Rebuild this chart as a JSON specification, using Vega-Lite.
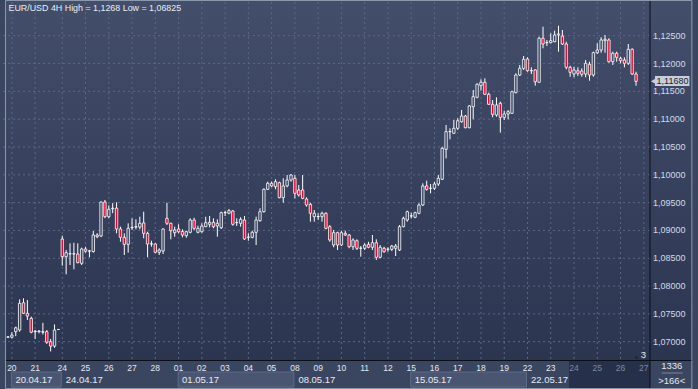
{
"$schema": "https://vega.github.io/schema/vega-lite/v6.json",
"width": 652, "height": 358,
"autosize": {"type": "none"},
"padding": {"left": 3, "top": 2, "right": 43, "bottom": 29},
"background": "#3a4560",
"config": {"view": {"stroke": null}, "font": "Liberation Sans", "locale": {"number": {"decimal": ",", "thousands": ".", "grouping": [3], "currency": ["", ""]}}},
"datasets": {
"candles": [
{"i":0,"o":1.07083,"h":1.071,"l":1.07065,"c":1.07085},
{"i":1,"o":1.0708,"h":1.0717,"l":1.0706,"c":1.0712},
{"i":2,"o":1.0718,"h":1.0727,"l":1.071,"c":1.0725},
{"i":3,"o":1.0721,"h":1.0776,"l":1.0718,"c":1.0769},
{"i":4,"o":1.077,"h":1.0778,"l":1.075,"c":1.0751},
{"i":5,"o":1.0751,"h":1.0775,"l":1.0739,"c":1.0746},
{"i":6,"o":1.0742,"h":1.0745,"l":1.0715,"c":1.0717},
{"i":7,"o":1.0719,"h":1.0721,"l":1.0705,"c":1.0718},
{"i":8,"o":1.0718,"h":1.0721,"l":1.0715,"c":1.0719},
{"i":9,"o":1.0718,"h":1.0734,"l":1.0713,"c":1.0717},
{"i":10,"o":1.0718,"h":1.0721,"l":1.0696,"c":1.0699},
{"i":11,"o":1.07,"h":1.0705,"l":1.06825,"c":1.0692},
{"i":12,"o":1.0692,"h":1.0731,"l":1.0689,"c":1.0721},
{"i":13,"o":1.0722,"h":1.0722,"l":1.0722,"c":1.0722},
{"i":14,"o":1.08846,"h":1.08905,"l":1.08366,"c":1.08528},
{"i":15,"o":1.08528,"h":1.08648,"l":1.08211,"c":1.086},
{"i":16,"o":1.08578,"h":1.08768,"l":1.08378,"c":1.08582},
{"i":17,"o":1.08582,"h":1.08779,"l":1.08301,"c":1.08576},
{"i":18,"o":1.08576,"h":1.08768,"l":1.08409,"c":1.0842},
{"i":19,"o":1.08409,"h":1.0869,"l":1.08378,"c":1.08666},
{"i":20,"o":1.08666,"h":1.08707,"l":1.086,"c":1.08625},
{"i":21,"o":1.08628,"h":1.0865,"l":1.08517,"c":1.08632},
{"i":22,"o":1.0862,"h":1.0899,"l":1.086,"c":1.08918},
{"i":23,"o":1.08918,"h":1.0895,"l":1.0886,"c":1.08888},
{"i":24,"o":1.089,"h":1.0952,"l":1.0888,"c":1.09511},
{"i":25,"o":1.09511,"h":1.09547,"l":1.0922,"c":1.09247},
{"i":26,"o":1.09247,"h":1.0945,"l":1.0922,"c":1.0938},
{"i":27,"o":1.0939,"h":1.0949,"l":1.0931,"c":1.094},
{"i":28,"o":1.094,"h":1.09506,"l":1.08948,"c":1.09026},
{"i":29,"o":1.09026,"h":1.09067,"l":1.08797,"c":1.08876},
{"i":30,"o":1.08876,"h":1.08948,"l":1.08558,"c":1.0875},
{"i":31,"o":1.0875,"h":1.09128,"l":1.086,"c":1.09038},
{"i":32,"o":1.0905,"h":1.09218,"l":1.09008,"c":1.09056},
{"i":33,"o":1.0906,"h":1.092,"l":1.0902,"c":1.09067},
{"i":34,"o":1.0906,"h":1.09247,"l":1.0902,"c":1.09128},
{"i":35,"o":1.09135,"h":1.09337,"l":1.08858,"c":1.08948},
{"i":36,"o":1.08948,"h":1.08977,"l":1.08517,"c":1.08756},
{"i":37,"o":1.08756,"h":1.08815,"l":1.08707,"c":1.0876},
{"i":38,"o":1.08756,"h":1.08768,"l":1.08589,"c":1.08607},
{"i":39,"o":1.08607,"h":1.08679,"l":1.08558,"c":1.08648},
{"i":40,"o":1.0863,"h":1.09038,"l":1.08576,"c":1.09026},
{"i":41,"o":1.09218,"h":1.09498,"l":1.09097,"c":1.09128},
{"i":42,"o":1.09128,"h":1.09139,"l":1.0884,"c":1.08995},
{"i":43,"o":1.08959,"h":1.09067,"l":1.08887,"c":1.09008},
{"i":44,"o":1.09026,"h":1.0911,"l":1.08948,"c":1.08977},
{"i":45,"o":1.0898,"h":1.0902,"l":1.08876,"c":1.08918},
{"i":46,"o":1.08905,"h":1.08995,"l":1.08869,"c":1.08977},
{"i":47,"o":1.08966,"h":1.09218,"l":1.08948,"c":1.09187},
{"i":48,"o":1.09187,"h":1.09229,"l":1.09008,"c":1.09038},
{"i":49,"o":1.08966,"h":1.09085,"l":1.08948,"c":1.09038},
{"i":50,"o":1.08977,"h":1.09128,"l":1.08959,"c":1.09079},
{"i":51,"o":1.09067,"h":1.09247,"l":1.0906,"c":1.09139},
{"i":52,"o":1.0911,"h":1.09259,"l":1.09056,"c":1.09146},
{"i":53,"o":1.09146,"h":1.09218,"l":1.09038,"c":1.09067},
{"i":54,"o":1.0908,"h":1.092,"l":1.08887,"c":1.09128},
{"i":55,"o":1.09049,"h":1.09337,"l":1.09026,"c":1.09319},
{"i":56,"o":1.09319,"h":1.09355,"l":1.09259,"c":1.09322},
{"i":57,"o":1.09308,"h":1.09385,"l":1.0929,"c":1.09355},
{"i":58,"o":1.0935,"h":1.09367,"l":1.09085,"c":1.0911},
{"i":59,"o":1.09139,"h":1.09218,"l":1.0908,"c":1.09142},
{"i":60,"o":1.09128,"h":1.09236,"l":1.09067,"c":1.092},
{"i":61,"o":1.09187,"h":1.09259,"l":1.08828,"c":1.08846},
{"i":62,"o":1.08876,"h":1.08948,"l":1.08815,"c":1.0888},
{"i":63,"o":1.08876,"h":1.08995,"l":1.08858,"c":1.08966},
{"i":64,"o":1.08966,"h":1.09247,"l":1.08738,"c":1.09187},
{"i":65,"o":1.09175,"h":1.09398,"l":1.09157,"c":1.09337},
{"i":66,"o":1.09337,"h":1.09757,"l":1.0932,"c":1.09739},
{"i":67,"o":1.09739,"h":1.09876,"l":1.09727,"c":1.09847},
{"i":68,"o":1.09847,"h":1.0988,"l":1.0978,"c":1.09799},
{"i":69,"o":1.09786,"h":1.09919,"l":1.0974,"c":1.09876},
{"i":70,"o":1.09858,"h":1.09876,"l":1.09577,"c":1.09588},
{"i":71,"o":1.0959,"h":1.09937,"l":1.09498,"c":1.09799},
{"i":72,"o":1.098,"h":1.09996,"l":1.09775,"c":1.09906},
{"i":73,"o":1.09906,"h":1.10014,"l":1.09876,"c":1.09996},
{"i":74,"o":1.09937,"h":1.09996,"l":1.09577,"c":1.09667},
{"i":75,"o":1.09727,"h":1.09817,"l":1.09607,"c":1.09637},
{"i":76,"o":1.09727,"h":1.09996,"l":1.0956,"c":1.09577},
{"i":77,"o":1.09565,"h":1.09595,"l":1.09427,"c":1.09457},
{"i":78,"o":1.09469,"h":1.09498,"l":1.09157,"c":1.09308},
{"i":79,"o":1.09247,"h":1.09367,"l":1.09157,"c":1.09308},
{"i":80,"o":1.09247,"h":1.09308,"l":1.09187,"c":1.0925},
{"i":81,"o":1.09247,"h":1.09337,"l":1.09157,"c":1.09308},
{"i":82,"o":1.09308,"h":1.09326,"l":1.0902,"c":1.09038},
{"i":83,"o":1.09067,"h":1.09097,"l":1.08797,"c":1.08828},
{"i":84,"o":1.08738,"h":1.09008,"l":1.08697,"c":1.08959},
{"i":85,"o":1.08959,"h":1.08977,"l":1.08648,"c":1.08738},
{"i":86,"o":1.08738,"h":1.08995,"l":1.0872,"c":1.08959},
{"i":87,"o":1.08948,"h":1.08995,"l":1.089,"c":1.08918},
{"i":88,"o":1.08918,"h":1.08936,"l":1.08679,"c":1.08707},
{"i":89,"o":1.08707,"h":1.08858,"l":1.08648,"c":1.08828},
{"i":90,"o":1.08815,"h":1.0884,"l":1.08648,"c":1.08679},
{"i":91,"o":1.08679,"h":1.0872,"l":1.08528,"c":1.08682},
{"i":92,"o":1.08679,"h":1.08768,"l":1.08648,"c":1.08738},
{"i":93,"o":1.0875,"h":1.08797,"l":1.08679,"c":1.08697},
{"i":94,"o":1.08697,"h":1.08918,"l":1.08648,"c":1.08779},
{"i":95,"o":1.08779,"h":1.0884,"l":1.08468,"c":1.08517},
{"i":96,"o":1.08517,"h":1.08738,"l":1.08499,"c":1.08697},
{"i":97,"o":1.08679,"h":1.08707,"l":1.086,"c":1.08617},
{"i":98,"o":1.0866,"h":1.08697,"l":1.08617,"c":1.08663},
{"i":99,"o":1.0866,"h":1.08738,"l":1.0863,"c":1.0872},
{"i":100,"o":1.08679,"h":1.08756,"l":1.0854,"c":1.0872},
{"i":101,"o":1.08648,"h":1.09097,"l":1.0863,"c":1.09067},
{"i":102,"o":1.09067,"h":1.09247,"l":1.09056,"c":1.09218},
{"i":103,"o":1.09187,"h":1.09355,"l":1.09157,"c":1.09337},
{"i":104,"o":1.0926,"h":1.09319,"l":1.09218,"c":1.09262},
{"i":105,"o":1.09236,"h":1.09337,"l":1.0922,"c":1.09319},
{"i":106,"o":1.09308,"h":1.09488,"l":1.0929,"c":1.09457},
{"i":107,"o":1.09457,"h":1.09847,"l":1.0944,"c":1.09799},
{"i":108,"o":1.09799,"h":1.09894,"l":1.09714,"c":1.09739},
{"i":109,"o":1.09757,"h":1.09834,"l":1.09667,"c":1.0976},
{"i":110,"o":1.09757,"h":1.09876,"l":1.09727,"c":1.09834},
{"i":111,"o":1.09834,"h":1.09996,"l":1.09799,"c":1.09937},
{"i":112,"o":1.09919,"h":1.10505,"l":1.09906,"c":1.10476},
{"i":113,"o":1.10458,"h":1.10895,"l":1.10296,"c":1.10775},
{"i":114,"o":1.10775,"h":1.10836,"l":1.10638,"c":1.10778},
{"i":115,"o":1.10746,"h":1.10985,"l":1.10733,"c":1.10836},
{"i":116,"o":1.10836,"h":1.11016,"l":1.10805,"c":1.10972},
{"i":117,"o":1.10954,"h":1.11165,"l":1.10936,"c":1.11057},
{"i":118,"o":1.11057,"h":1.11075,"l":1.10836,"c":1.10846},
{"i":119,"o":1.10846,"h":1.11255,"l":1.10836,"c":1.11237},
{"i":120,"o":1.11224,"h":1.11524,"l":1.10997,"c":1.11404},
{"i":121,"o":1.11393,"h":1.11645,"l":1.11375,"c":1.11627},
{"i":122,"o":1.11602,"h":1.11717,"l":1.11512,"c":1.11663},
{"i":123,"o":1.11663,"h":1.11734,"l":1.11434,"c":1.11447},
{"i":124,"o":1.11447,"h":1.11476,"l":1.11255,"c":1.11267},
{"i":125,"o":1.11267,"h":1.11344,"l":1.11033,"c":1.11087},
{"i":126,"o":1.11075,"h":1.11393,"l":1.11044,"c":1.11255},
{"i":127,"o":1.11285,"h":1.11314,"l":1.10757,"c":1.11033},
{"i":128,"o":1.11033,"h":1.11152,"l":1.10985,"c":1.11093},
{"i":129,"o":1.11093,"h":1.11165,"l":1.10997,"c":1.11134},
{"i":130,"o":1.11105,"h":1.11512,"l":1.11093,"c":1.11494},
{"i":131,"o":1.11476,"h":1.11824,"l":1.11465,"c":1.11794},
{"i":132,"o":1.11794,"h":1.11974,"l":1.11776,"c":1.11914},
{"i":133,"o":1.11914,"h":1.12135,"l":1.11884,"c":1.12076},
{"i":134,"o":1.12081,"h":1.12112,"l":1.11853,"c":1.11871},
{"i":135,"o":1.1187,"h":1.11932,"l":1.11812,"c":1.11873},
{"i":136,"o":1.11884,"h":1.11896,"l":1.11602,"c":1.11673},
{"i":137,"o":1.11663,"h":1.12482,"l":1.11655,"c":1.12454},
{"i":138,"o":1.12454,"h":1.12662,"l":1.12274,"c":1.12351},
{"i":139,"o":1.12375,"h":1.12423,"l":1.12315,"c":1.12378},
{"i":140,"o":1.12375,"h":1.12543,"l":1.12364,"c":1.12411},
{"i":141,"o":1.12393,"h":1.1259,"l":1.12382,"c":1.12513},
{"i":142,"o":1.12513,"h":1.1268,"l":1.12213,"c":1.12531},
{"i":143,"o":1.12495,"h":1.12603,"l":1.12333,"c":1.12351},
{"i":144,"o":1.12351,"h":1.12392,"l":1.11896,"c":1.11932},
{"i":145,"o":1.11932,"h":1.11961,"l":1.11763,"c":1.11842},
{"i":146,"o":1.11812,"h":1.11943,"l":1.11752,"c":1.11884},
{"i":147,"o":1.1187,"h":1.11932,"l":1.11776,"c":1.11824},
{"i":148,"o":1.11866,"h":1.11914,"l":1.11763,"c":1.11806},
{"i":149,"o":1.11812,"h":1.12063,"l":1.11752,"c":1.12004},
{"i":150,"o":1.11986,"h":1.12033,"l":1.11691,"c":1.11794},
{"i":151,"o":1.11794,"h":1.12213,"l":1.11763,"c":1.12195},
{"i":152,"o":1.12195,"h":1.12364,"l":1.12172,"c":1.12243},
{"i":153,"o":1.12243,"h":1.12472,"l":1.12195,"c":1.12423},
{"i":154,"o":1.12411,"h":1.12513,"l":1.12195,"c":1.12436},
{"i":155,"o":1.12423,"h":1.12454,"l":1.12015,"c":1.12033},
{"i":156,"o":1.12033,"h":1.12213,"l":1.11974,"c":1.12184},
{"i":157,"o":1.12184,"h":1.12213,"l":1.12033,"c":1.12112},
{"i":158,"o":1.12094,"h":1.12123,"l":1.12004,"c":1.12051},
{"i":159,"o":1.12063,"h":1.12112,"l":1.11932,"c":1.12004},
{"i":160,"o":1.12004,"h":1.12351,"l":1.11974,"c":1.12256},
{"i":161,"o":1.12256,"h":1.12274,"l":1.11794,"c":1.11812},
{"i":162,"o":1.11812,"h":1.11853,"l":1.11602,"c":1.1168}
],
"days": [
{"i":1,"d":"20"},{"i":7,"d":"21"},{"i":14,"d":"24"},{"i":20,"d":"25"},{"i":26,"d":"26"},{"i":32,"d":"27"},{"i":38,"d":"28"},
{"i":44,"d":"01"},{"i":50,"d":"02"},{"i":56,"d":"03"},{"i":62,"d":"04"},{"i":68,"d":"05"},
{"i":74,"d":"08"},{"i":80,"d":"09"},{"i":86,"d":"10"},{"i":92,"d":"11"},{"i":98,"d":"12"},
{"i":104,"d":"15"},{"i":110,"d":"16"},{"i":116,"d":"17"},{"i":122,"d":"18"},{"i":128,"d":"19"},
{"i":134,"d":"22"},{"i":140,"d":"23"},{"i":146,"d":"24"},{"i":152,"d":"25"},{"i":158,"d":"26"},{"i":164,"d":"27"}
],
"weeks": [
{"w":0,"s":1,"e":14,"t":"20.04.17"},
{"w":1,"s":14,"e":44,"t":"24.04.17"},
{"w":2,"s":44,"e":74,"t":"01.05.17"},
{"w":3,"s":74,"e":104,"t":"08.05.17"},
{"w":4,"s":104,"e":134,"t":"15.05.17"},
{"w":5,"s":134,"e":146,"t":"22.05.17"}
],
"levels": [
{"p":1.07},{"p":1.075},{"p":1.08},{"p":1.085},{"p":1.09},{"p":1.095},{"p":1.1},{"p":1.105},{"p":1.11},{"p":1.115},{"p":1.12},{"p":1.125}
]
},
"layer": [
{
"data": {"values": [{"k": 1}]},
"mark": {"type": "rect", "fill": {"gradient": "linear", "x1": 0, "y1": 0, "x2": 0, "y2": 1, "stops": [{"offset": 0, "color": "#434e6b"}, {"offset": 1, "color": "#2b3550"}]}},
"encoding": {
"x": {"datum": -0.762, "type": "quantitative", "scale": {"domain": [0, 165.6], "nice": false, "zero": false}, "axis": null},
"x2": {"datum": 176.53},
"y": {"datum": 1.13142, "type": "quantitative", "scale": {"domain": [1.06671, 1.13106], "nice": false, "zero": false}, "axis": null},
"y2": {"datum": 1.06671}
}
},
{
"data": {"name": "levels"},
"mark": {"type": "rule", "stroke": "#5b6885", "strokeWidth": 1, "strokeDash": [2, 3]},
"encoding": {
"y": {"field": "p", "type": "quantitative", "scale": {"domain": [1.06671, 1.13106], "nice": false, "zero": false}, "axis": null}
}
},
{
"data": {"name": "levels"},
"mark": {"type": "text", "align": "left", "baseline": "middle", "fontSize": 9, "color": "#d3dbe8"},
"encoding": {
"x": {"datum": 166.35, "type": "quantitative", "scale": {"domain": [0, 165.6], "nice": false, "zero": false}, "axis": null},
"y": {"field": "p", "type": "quantitative", "scale": {"domain": [1.06671, 1.13106], "nice": false, "zero": false}, "axis": null},
"text": {"field": "p", "type": "quantitative", "format": ".5f"}
}
},
{
"data": {"name": "days"},
"mark": {"type": "rule", "stroke": "#5b6885", "strokeWidth": 1, "strokeDash": [2, 3]},
"encoding": {
"x": {"field": "i", "type": "quantitative", "scale": {"domain": [0, 165.6], "nice": false, "zero": false}, "axis": null}
}
},
{
"data": {"values": [{"k": 1}]},
"mark": {"type": "rect", "fill": "#27304a"},
"encoding": {
"x": {"datum": 144.7, "type": "quantitative", "scale": {"domain": [0, 165.6], "nice": false, "zero": false}, "axis": null},
"x2": {"datum": 165.6},
"y": {"datum": 1.06653, "type": "quantitative", "scale": {"domain": [1.06671, 1.13106], "nice": false, "zero": false}, "axis": null},
"y2": {"datum": 1.06167}
}
},
{
"data": {"name": "weeks"},
"transform": [{"filter": "datum.w % 2 == 0"}],
"mark": {"type": "rect", "fill": "#4a5671", "stroke": "#5e6b87", "strokeWidth": 1, "xOffset": -0.5, "x2Offset": -1},
"encoding": {
"x": {"field": "s", "type": "quantitative", "scale": {"domain": [0, 165.6], "nice": false, "zero": false}, "axis": null},
"x2": {"field": "e"},
"y": {"datum": 1.06455, "type": "quantitative", "scale": {"domain": [1.06671, 1.13106], "nice": false, "zero": false}, "axis": null},
"y2": {"datum": 1.06185}
}
},
{
"data": {"name": "weeks"},
"mark": {"type": "text", "align": "left", "baseline": "middle", "dx": 3.5, "fontSize": 9.5, "color": "#e6ebf2"},
"encoding": {
"x": {"field": "s", "type": "quantitative", "scale": {"domain": [0, 165.6], "nice": false, "zero": false}, "axis": null},
"y": {"datum": 1.06311, "type": "quantitative", "scale": {"domain": [1.06671, 1.13106], "nice": false, "zero": false}, "axis": null},
"text": {"field": "t"}
}
},
{
"data": {"name": "days"},
"mark": {"type": "text", "align": "center", "baseline": "middle", "fontSize": 8.5},
"encoding": {
"x": {"field": "i", "type": "quantitative", "scale": {"domain": [0, 165.6], "nice": false, "zero": false}, "axis": null},
"y": {"datum": 1.06527, "type": "quantitative", "scale": {"domain": [1.06671, 1.13106], "nice": false, "zero": false}, "axis": null},
"text": {"field": "d"},
"color": {"condition": {"test": "datum.i >= 146", "value": "#7d889e"}, "value": "#e3e8f0"}
}
},
{
"data": {"name": "candles"},
"mark": {"type": "rule", "stroke": "#ffffff", "strokeWidth": 1},
"encoding": {
"x": {"field": "i", "type": "quantitative", "scale": {"domain": [0, 165.6], "nice": false, "zero": false}, "axis": null},
"y": {"field": "l", "type": "quantitative", "scale": {"domain": [1.06671, 1.13106], "nice": false, "zero": false}, "axis": null},
"y2": {"field": "h"}
}
},
{
"data": {"name": "candles"},
"mark": {"type": "bar", "size": 2.4, "stroke": "#ffffff", "strokeWidth": 0.8},
"encoding": {
"x": {"field": "i", "type": "quantitative", "scale": {"domain": [0, 165.6], "nice": false, "zero": false}, "axis": null},
"y": {"field": "o", "type": "quantitative", "scale": {"domain": [1.06671, 1.13106], "nice": false, "zero": false}, "axis": null},
"y2": {"field": "c"},
"fill": {"condition": {"test": "datum.c < datum.o", "value": "#f0002c"}, "value": "#3a4562"}
}
},
{
"data": {"values": [{"t": "EUR/USD 4H High = 1,1268 Low = 1,06825"}]},
"mark": {"type": "text", "align": "left", "baseline": "middle", "dx": 0.5, "fontSize": 8.9, "color": "#e8edf5"},
"encoding": {
"x": {"datum": 0, "type": "quantitative", "scale": {"domain": [0, 165.6], "nice": false, "zero": false}, "axis": null},
"y": {"datum": 1.12998, "type": "quantitative", "scale": {"domain": [1.06671, 1.13106], "nice": false, "zero": false}, "axis": null},
"text": {"field": "t"}
}
},
{
"data": {"values": [{"k": 1}]},
"mark": {"type": "rect", "fill": "#c9ced8"},
"encoding": {
"x": {"datum": 166.88, "type": "quantitative", "scale": {"domain": [0, 165.6], "nice": false, "zero": false}, "axis": null},
"x2": {"datum": 175.77},
"y": {"datum": 1.11776, "type": "quantitative", "scale": {"domain": [1.06671, 1.13106], "nice": false, "zero": false}, "axis": null},
"y2": {"datum": 1.11596}
}
},
{
"data": {"values": [{"k": 1}]},
"mark": {"type": "point", "shape": "triangle-left", "filled": true, "size": 30, "color": "#c9ced8", "opacity": 1},
"encoding": {
"x": {"datum": 166.45, "type": "quantitative", "scale": {"domain": [0, 165.6], "nice": false, "zero": false}, "axis": null},
"y": {"datum": 1.1168, "type": "quantitative", "scale": {"domain": [1.06671, 1.13106], "nice": false, "zero": false}, "axis": null}
}
},
{
"data": {"values": [{"t": "1,11680"}]},
"mark": {"type": "text", "align": "center", "baseline": "middle", "fontSize": 9, "color": "#1b2233"},
"encoding": {
"x": {"datum": 171.4, "type": "quantitative", "scale": {"domain": [0, 165.6], "nice": false, "zero": false}, "axis": null},
"y": {"datum": 1.1168, "type": "quantitative", "scale": {"domain": [1.06671, 1.13106], "nice": false, "zero": false}, "axis": null},
"text": {"field": "t"}
}
},
{
"data": {"values": [{"k": 1}]},
"mark": {"type": "point", "shape": "triangle-up", "filled": true, "size": 14, "color": "#1c2336", "opacity": 1},
"encoding": {
"x": {"datum": 162.1, "type": "quantitative", "scale": {"domain": [0, 165.6], "nice": false, "zero": false}, "axis": null},
"y": {"datum": 1.06725, "type": "quantitative", "scale": {"domain": [1.06671, 1.13106], "nice": false, "zero": false}, "axis": null}
}
},
{
"data": {"values": [{"t": "3", "x": 163.9, "y": 1.06761}, {"t": "1336", "x": 171.2, "y": 1.06563}, {"t": ">166<", "x": 171.2, "y": 1.06293}]},
"mark": {"type": "text", "align": "center", "baseline": "middle", "fontSize": 9.5, "color": "#e3e8f0"},
"encoding": {
"x": {"field": "x", "type": "quantitative", "scale": {"domain": [0, 165.6], "nice": false, "zero": false}, "axis": null},
"y": {"field": "y", "type": "quantitative", "scale": {"domain": [1.06671, 1.13106], "nice": false, "zero": false}, "axis": null},
"text": {"field": "t"}
}
},
{
"data": {"values": [{"k": 1}]},
"mark": {"type": "rule", "stroke": "#7d889e", "strokeWidth": 1},
"encoding": {
"x": {"datum": 168.6, "type": "quantitative", "scale": {"domain": [0, 165.6], "nice": false, "zero": false}, "axis": null},
"x2": {"datum": 174.0},
"y": {"datum": 1.06437, "type": "quantitative", "scale": {"domain": [1.06671, 1.13106], "nice": false, "zero": false}, "axis": null}
}
},
{
"data": {"values": [{"k": 1}]},
"mark": {"type": "rule", "stroke": "#0b0f18", "strokeWidth": 1},
"encoding": {
"x": {"datum": -0.762, "type": "quantitative", "scale": {"domain": [0, 165.6], "nice": false, "zero": false}, "axis": null},
"x2": {"datum": 176.53},
"y": {"datum": 1.06662, "type": "quantitative", "scale": {"domain": [1.06671, 1.13106], "nice": false, "zero": false}, "axis": null}
}
},
{
"data": {"values": [{"k": 1}]},
"mark": {"type": "rule", "stroke": "#0b0f18", "strokeWidth": 1},
"encoding": {
"x": {"datum": 165.6, "type": "quantitative", "scale": {"domain": [0, 165.6], "nice": false, "zero": false}, "axis": null},
"y": {"datum": 1.13142, "type": "quantitative", "scale": {"domain": [1.06671, 1.13106], "nice": false, "zero": false}, "axis": null},
"y2": {"datum": 1.06149}
}
},
{
"data": {"values": [{"k": 1}]},
"mark": {"type": "rect", "fill": null, "fillOpacity": 0, "stroke": "#8d99ae", "strokeWidth": 1},
"encoding": {
"x": {"datum": -0.635, "type": "quantitative", "scale": {"domain": [0, 165.6], "nice": false, "zero": false}, "axis": null},
"x2": {"datum": 176.4},
"y": {"datum": 1.13133, "type": "quantitative", "scale": {"domain": [1.06671, 1.13106], "nice": false, "zero": false}, "axis": null},
"y2": {"datum": 1.06158}
}
}
]
}
